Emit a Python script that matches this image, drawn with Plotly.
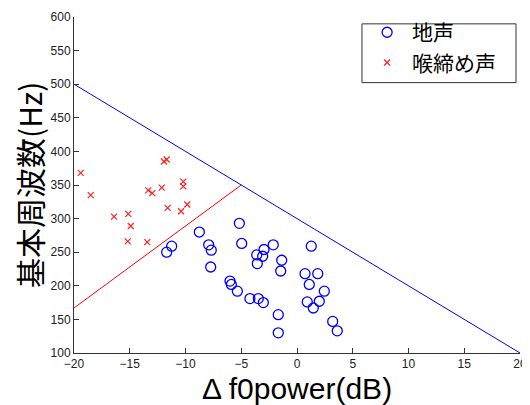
import plotly.graph_objects as go

# 地声 (modal voice)
modal_x = [-11.69, -11.24, -8.76, -7.92, -7.69, -7.74, -5.17, -4.96, -6.01, -5.89, -5.35,
           -4.22, -3.47, -3.02, -3.61, -2.96, -3.08, -3.56, -2.13, -1.37, -1.46, -1.68,
           -1.68, 1.28, 0.72, 1.86, 1.10, 2.45, 0.92, 2.00, 1.46, 3.20, 3.61]
modal_y = [250, 259, 280, 261, 253, 228, 293, 263, 207, 202, 192,
           181, 181, 175, 246, 254, 244, 233, 261, 238, 222, 157,
           130, 259, 218, 218, 202, 192, 176, 177, 167, 147, 133]

# 喉締め声 (pressed voice)
pressed_x = [-19.40, -18.50, -16.41, -15.13, -14.91, -15.18, -13.43, -13.34, -12.98,
             -12.13, -11.93, -11.69, -11.60, -10.20, -10.20, -10.40, -9.84]
pressed_y = [368, 335, 303, 307, 289, 266, 265, 342, 338,
             346, 385, 388, 316, 355, 348, 311, 321]

# boundary lines
blue_line_x = [-20, 20]
blue_line_y = [500, 100]
red_line_x = [-20, -5]
red_line_y = [167, 350]

x_ticks = [-20, -15, -10, -5, 0, 5, 10, 15, 20]
y_ticks = [100, 150, 200, 250, 300, 350, 400, 450, 500, 550, 600]

fig = go.Figure()
fig.add_trace(go.Scatter(x=blue_line_x, y=blue_line_y, mode="lines",
                         line=dict(color="#0000ff", width=1), showlegend=False, hoverinfo="skip"))
fig.add_trace(go.Scatter(x=red_line_x, y=red_line_y, mode="lines",
                         line=dict(color="#ff0000", width=1), showlegend=False, hoverinfo="skip"))
fig.add_trace(go.Scatter(x=modal_x, y=modal_y, mode="markers", name="地声",
                         marker=dict(symbol="circle-open", size=10, color="#0000ff",
                                     line=dict(width=1.3, color="#0000ff"))))
fig.add_trace(go.Scatter(x=pressed_x, y=pressed_y, mode="markers", name="喉締め声",
                         marker=dict(symbol="x-thin-open", size=6, color="#ff2020",
                                     line=dict(width=1.2, color="#ff2020"))))

tick_font = dict(family="Liberation Sans Narrow, Liberation Sans, Arial", size=12, color="#222")
fig.update_layout(
    width=522, height=397,
    margin=dict(l=66, r=10, t=2, b=52),
    paper_bgcolor="white", plot_bgcolor="white",
    legend=dict(x=0.646, y=1.0146, xanchor="left", yanchor="top",
                bgcolor="rgba(0,0,0,0)", borderwidth=0,
                font=dict(family="Noto Sans CJK JP", size=21, color="black"),
                itemwidth=40, tracegroupgap=0),
    shapes=[dict(type="rect", xref="paper", yref="paper",
                 x0=0.6457, x1=0.991, y0=0.8047, y1=0.9796,
                 line=dict(color="#333", width=1), fillcolor="white", layer="above")],
    xaxis=dict(range=[-20, 20], tickvals=x_ticks, ticks="inside", ticklen=5,
               tickcolor="#333", showline=True, linecolor="#333", linewidth=1,
               showgrid=False, zeroline=False, tickfont=tick_font,
               ticklabeloverflow="allow"),
    yaxis=dict(range=[100, 600], tickvals=y_ticks, ticks="inside", ticklen=5,
               tickcolor="#333", showline=True, linecolor="#333", linewidth=1,
               showgrid=False, zeroline=False, tickfont=tick_font,
               ticklabeloverflow="allow"),
    annotations=[
        dict(text="Δ f0power(dB)", xref="paper", yref="paper", x=0.5, y=-0.105,
             xanchor="center", yanchor="middle", showarrow=False,
             font=dict(family="Liberation Sans, Arial", size=30, color="black")),
        dict(text="基本周波数(Hz)", xref="paper", yref="paper", x=-0.1009, y=0.5,
             xanchor="center", yanchor="middle", showarrow=False, textangle=-90,
             font=dict(family="Noto Sans CJK JP", size=30, color="black")),
    ],
)

fig.write_html("out.html")
